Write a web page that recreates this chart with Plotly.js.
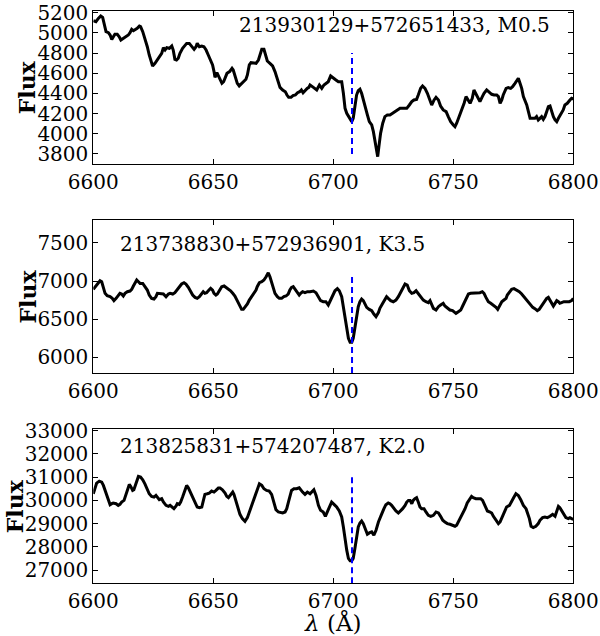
<!DOCTYPE html>
<html>
<head>
<meta charset="utf-8">
<script src="https://cdn.plot.ly/plotly-3.0.1.min.js"></script>
<style>html,body{margin:0;padding:0;background:#fff;}#chart{width:600px;height:636px;}</style>
</head>
<body>
<div id="chart"></div>
<script>
// ---------- data ----------
const starNames = ["213930129+572651433, M0.5", "213738830+572936901, K3.5", "213825831+574207487, K2.0"];
const yLabel = "Flux";
const xLabel = "<i>λ</i> (Å)";
const liLine = 6707.8;
const liLow = [3800, 5795, 26430];
const liHigh = [4800, 7100, 31000];
const xTicks = [6600, 6650, 6700, 6750, 6800];

const wl1 = [6600.0,6601.1,6602.1,6603.1,6603.9,6604.6,6605.3,6606.3,6607.0,6607.7,6608.3,6609.0,6610.0,6610.8,6611.5,6612.5,6613.5,6614.6,6615.3,6616.0,6616.7,6617.4,6618.3,6619.2,6619.7,6620.6,6621.5,6622.5,6623.3,6624.3,6624.7,6625.7,6626.7,6627.8,6628.5,6629.2,6629.9,6630.6,6631.7,6632.7,6633.3,6634.0,6634.7,6635.4,6636.1,6637.2,6638.2,6638.9,6640.0,6641.0,6642.0,6642.8,6643.3,6644.2,6645.2,6646.1,6647.0,6647.9,6648.9,6649.7,6650.3,6650.7,6651.5,6652.6,6653.6,6654.3,6655.0,6655.7,6656.8,6657.8,6658.3,6659.0,6660.0,6660.8,6661.8,6662.8,6663.6,6664.2,6665.0,6665.7,6666.7,6667.8,6668.8,6669.5,6670.2,6671.1,6671.8,6672.5,6673.6,6674.7,6675.7,6676.7,6677.8,6678.9,6680.0,6680.7,6681.4,6682.4,6683.2,6684.2,6685.1,6686.0,6686.7,6687.4,6688.4,6689.1,6689.8,
6690.3,6691.7,6693.1,6694.2,6695.2,6696.1,6697.2,6697.9,6698.9,6700.0,6701.1,6702.1,6703.5,6704.2,6704.9,6705.6,6706.7,6707.7,6708.3,6709.0,6709.7,6710.4,6711.1,6711.8,6712.5,6713.2,6714.2,6715.0,6716.0,6716.7,6717.4,6718.1,6718.5,6719.0,6719.7,6720.6,6721.5,6722.5,6723.6,6724.7,6725.7,6726.7,6727.8,6729.2,6730.6,6731.7,6732.7,6733.6,6734.7,6735.4,6736.4,6737.2,6738.2,6739.2,6740.0,6741.0,6742.0,6742.8,6743.8,6744.7,6745.8,6747.0,6747.9,6748.9,6750.0,6750.7,6751.4,6752.5,6753.5,6754.5,6755.3,6756.0,6757.0,6757.9,6758.6,6759.3,6760.2,6761.1,6762.1,6762.8,6763.9,6764.9,6766.0,6767.0,6768.1,6768.8,6769.5,6770.2,6770.8,6772.0,6772.9,6773.9,6774.7,6775.7,6776.7,6777.1,6777.8,6778.5,6779.2,6779.9,6780.6,6781.3,6782.0,6783.1,6784.0,6784.7,6785.4,6786.1,6786.8,6787.5,6788.2,6788.9,6789.6,6790.3,6791.0,6791.7,6792.4,6793.1,6793.8,6794.7,6795.8,6796.5,6797.5,6798.6,6799.3,6800.0];
const flux1 = [5121,5111,5144,5167,5154,5095,5012,5002,4979,4936,4962,4986,4986,4962,4929,4946,4962,4979,5002,5035,5022,5029,5045,5068,5062,5012,4946,4863,4781,4698,4672,4698,4731,4764,4797,4853,4830,4853,4847,4870,4830,4738,4731,4748,4797,4847,4880,4896,4896,4863,4837,4863,4896,4863,4870,4863,4830,4781,4731,4682,4616,4559,4606,4550,4500,4516,4550,4599,4616,4649,4632,4566,4500,4474,4500,4516,4540,4583,4682,4705,4698,4698,4731,4797,4837,4837,4781,4721,4698,4672,4616,4540,4460,4434,4417,4384,4361,4361,4378,4384,4407,4417,4434,4407,4434,4450,4460,
4483,4460,4434,4483,4450,4483,4500,4516,4573,4550,4533,4516,4516,4401,4252,4203,4153,4120,4153,4285,4384,4427,4441,4401,4335,4252,4186,4120,4087,4021,3922,3806,3773,3872,4004,4104,4170,4186,4186,4203,4219,4236,4252,4252,4252,4285,4318,4335,4341,4384,4450,4474,4450,4401,4351,4285,4335,4361,4335,4275,4236,4219,4170,4120,4087,4070,4104,4170,4236,4302,4368,4335,4302,4351,4434,4401,4351,4318,4368,4401,4434,4417,4391,4384,4384,4368,4302,4335,4384,4450,4457,4450,4467,4500,4540,4550,4500,4450,4368,4325,4285,4219,4153,4153,4153,4170,4137,4153,4170,4143,4170,4219,4269,4275,4219,4170,4137,4120,4153,4186,4236,4285,4302,4335,4351,4345];

const wl2 = [6600.0,6601.1,6602.1,6602.8,6603.5,6604.2,6604.9,6605.8,6607.0,6607.9,6608.6,6609.5,6610.4,6611.1,6611.8,6612.5,6613.2,6614.2,6615.3,6616.0,6616.7,6617.4,6618.1,6618.8,6619.5,6620.6,6621.5,6622.5,6623.3,6624.3,6625.3,6626.1,6626.7,6627.8,6628.5,6629.2,6630.3,6631.3,6632.0,6633.1,6634.0,6635.0,6635.8,6636.8,6637.8,6638.6,6639.6,6640.6,6641.4,6642.4,6643.3,6644.2,6645.2,6645.8,6646.5,6647.2,6648.2,6648.9,6649.7,6650.3,6651.1,6651.7,6652.5,6653.5,6654.5,6655.3,6656.3,6657.2,6658.1,6659.0,6659.7,6660.4,6661.1,6661.8,6662.5,6663.2,6664.2,6665.0,6666.0,6667.0,6667.8,6668.3,6669.2,6670.2,6671.1,6672.0,6672.5,6672.9,6673.6,6674.3,6675.0,6675.7,6676.7,6677.5,6678.5,6679.4,6680.3,6681.2,6681.9,6682.6,6683.3,6684.0,6685.0,6685.8,6686.4,6687.2,6688.2,6689.2,
6690.3,6691.7,6692.8,6693.8,6694.7,6695.8,6696.9,6697.9,6698.9,6699.7,6700.7,6701.7,6702.5,6703.5,6704.2,6704.9,6705.6,6706.3,6707.0,6707.7,6708.3,6709.0,6709.7,6710.4,6711.1,6711.8,6712.5,6713.2,6713.9,6715.0,6716.0,6716.9,6717.8,6718.8,6719.4,6720.6,6721.5,6722.2,6722.9,6723.9,6725.0,6726.1,6727.1,6728.1,6728.9,6729.9,6730.8,6731.7,6732.7,6733.6,6734.5,6735.4,6736.4,6737.5,6738.6,6739.6,6740.3,6741.0,6741.7,6742.8,6743.8,6744.7,6745.8,6746.5,6747.5,6748.6,6749.7,6750.3,6751.1,6752.1,6753.1,6753.9,6754.9,6755.6,6756.3,6757.2,6758.3,6759.7,6761.1,6762.1,6762.8,6763.6,6764.6,6765.6,6766.7,6767.8,6768.5,6769.2,6770.2,6771.1,6772.0,6772.5,6773.4,6774.3,6775.3,6776.4,6777.5,6778.5,6779.4,6780.6,6781.3,6782.0,6783.1,6784.0,6785.0,6785.8,6786.8,6787.8,6788.9,6789.6,6790.3,6791.0,6791.7,6792.4,6793.1,6793.8,6794.4,6795.1,6796.1,6797.2,6798.3,6799.3,6800.0];
const flux2 = [6891,6935,6978,7004,6991,6926,6839,6808,6795,6773,6743,6773,6817,6839,6830,6804,6839,6860,6869,6891,6935,6978,7013,6991,6969,6969,6926,6882,6817,6773,6764,6795,6839,6839,6830,6830,6795,6830,6839,6830,6847,6891,6926,6961,6978,6961,6917,6860,6817,6786,6773,6795,6847,6860,6839,6847,6882,6904,6882,6839,6817,6830,6873,6926,6935,6917,6891,6873,6839,6804,6760,6716,6673,6629,6629,6655,6699,6751,6795,6839,6882,6926,6978,6991,7013,7057,7100,7109,7057,6991,6904,6839,6795,6773,6773,6795,6804,6830,6882,6917,6926,6891,6847,6817,6839,6860,6847,6860,
6860,6869,6847,6795,6743,6729,6729,6686,6751,6817,6873,6900,6873,6795,6664,6490,6359,6250,6197,6197,6250,6380,6533,6664,6729,6764,6743,6699,6655,6629,6612,6568,6533,6586,6642,6708,6760,6795,6773,6743,6729,6751,6795,6860,6917,6961,6948,6873,6839,6847,6873,6839,6795,6751,6729,6716,6743,6699,6642,6620,6664,6686,6708,6673,6642,6620,6612,6599,6577,6599,6620,6673,6743,6795,6830,6839,6839,6839,6847,6860,6839,6786,6729,6708,6686,6655,6629,6673,6729,6751,6773,6817,6860,6891,6900,6882,6860,6830,6795,6751,6716,6686,6655,6638,6612,6629,6673,6729,6773,6786,6751,6699,6673,6708,6743,6729,6708,6716,6729,6729,6729,6743,6773];

const wl3 = [6600.0,6600.7,6601.4,6602.5,6603.5,6604.2,6604.9,6605.6,6606.3,6607.0,6607.7,6608.3,6609.5,6610.4,6611.1,6611.8,6612.8,6613.6,6614.3,6615.0,6615.6,6616.4,6616.9,6617.8,6618.8,6619.7,6620.6,6621.5,6622.5,6623.3,6624.3,6625.3,6626.1,6626.8,6627.5,6628.5,6629.2,6630.3,6631.3,6632.0,6632.6,6633.6,6634.5,6635.0,6635.8,6636.4,6637.2,6638.2,6638.9,6639.6,6640.6,6641.4,6642.4,6643.3,6644.2,6645.2,6645.8,6646.5,6647.5,6648.3,6649.3,6650.3,6651.1,6652.1,6652.8,6653.8,6654.9,6655.6,6656.3,6656.9,6658.1,6658.6,6659.5,6660.4,6661.1,6662.1,6662.8,6663.2,6664.2,6665.0,6666.0,6667.0,6667.8,6668.8,6669.2,6670.2,6671.1,6672.2,6673.3,6674.3,6675.3,6676.1,6677.1,6678.1,6678.9,6679.9,6680.6,6681.3,6682.0,6682.6,6683.6,6684.7,6685.8,6686.4,6687.2,6688.2,6689.2,
6690.3,6691.4,6691.9,6692.8,6693.8,6694.7,6695.8,6696.7,6697.5,6698.3,6699.3,6700.3,6701.4,6702.5,6703.5,6704.2,6704.9,6705.6,6706.3,6707.0,6707.7,6708.3,6709.0,6709.7,6710.4,6711.1,6711.8,6712.5,6713.2,6714.2,6715.0,6716.0,6716.9,6717.8,6718.8,6719.4,6720.1,6721.1,6721.9,6722.9,6723.6,6724.3,6725.3,6726.1,6727.1,6728.1,6728.9,6729.9,6730.6,6731.3,6732.0,6732.7,6733.3,6734.0,6734.7,6735.4,6736.1,6736.8,6737.8,6738.6,6739.6,6740.6,6741.7,6742.8,6743.8,6744.7,6745.6,6746.5,6747.5,6748.6,6749.7,6750.7,6751.4,6752.1,6753.1,6753.9,6754.9,6755.8,6756.7,6757.6,6758.3,6759.4,6760.4,6761.4,6762.2,6763.2,6764.2,6765.3,6766.0,6766.7,6767.8,6768.8,6769.5,6770.2,6771.1,6772.2,6773.4,6774.3,6775.3,6776.1,6777.1,6778.1,6779.2,6780.3,6780.8,6781.7,6782.4,6783.3,6784.4,6785.4,6786.1,6787.2,6788.2,6789.2,6790.3,6791.4,6792.4,6793.1,6793.8,6794.4,6795.1,6796.1,6796.9,6797.9,6798.6,6799.3,6800.0];
const flux3 = [30286,30571,30743,30829,30786,30643,30429,30143,29929,29814,29857,29886,29857,29786,29829,29929,30000,30257,30500,30686,30600,30429,30457,30743,31029,31000,30886,30714,30500,30286,30171,30143,30214,30114,30029,30071,29929,29786,29743,29786,29714,29643,29757,29857,29829,29929,30143,30457,30643,30543,30314,30143,29929,29714,29686,29714,29971,30257,30286,30314,30400,30357,30429,30529,30529,30457,30314,30171,30114,30214,30357,30257,29971,29643,29400,29214,29114,29100,29257,29500,29786,30143,30357,30600,30714,30643,30500,30429,30400,30257,29929,29600,29500,29457,29457,29500,29643,29929,30214,30429,30500,30500,30543,30457,30357,30257,30357,
30286,30429,30457,30214,29786,29571,29500,29314,29500,29743,29929,29829,29714,29543,29286,28857,28286,27857,27500,27400,27400,27500,27929,28429,28857,29029,29114,29000,28829,28543,28600,28643,28500,28714,29071,29257,29400,29643,29814,29886,29857,29786,29643,29543,29457,29543,29643,29786,29929,30000,30000,29857,30000,30071,30114,29929,29714,29643,29643,29500,29357,29314,29357,29500,29457,29314,29143,29071,29000,28971,28929,28886,28929,29071,29214,29400,29643,29886,30029,30171,30114,30071,30071,30071,30000,29786,29543,29500,29457,29314,29143,29000,29071,29257,29457,29714,29786,29929,30143,30286,30214,30029,29786,29643,29500,29214,28886,28829,28886,29000,29143,29257,29286,29257,29314,29400,29314,29500,29743,29686,29571,29429,29257,29214,29257,29214,29186];

const yRanges = [[3700, 5220], [5795, 7800], [26430, 33060]];
const yDticks = [200, 500, 1000];

// ---------- chart ----------
const FONT = 'DejaVu Serif';
const wls = [wl1, wl2, wl3];
const fluxes = [flux1, flux2, flux3];
const traces = [];
for (let i = 0; i < 3; i++) {
  const sfx = i === 0 ? '' : String(i + 1);
  traces.push({x: wls[i], y: fluxes[i], type: 'scatter', mode: 'lines',
    xaxis: 'x' + sfx, yaxis: 'y' + sfx, line: {color: 'black', width: 3}, hoverinfo: 'skip'});
  traces.push({x: [liLine, liLine], y: [liLow[i], liHigh[i]], type: 'scatter', mode: 'lines',
    xaxis: 'x' + sfx, yaxis: 'y' + sfx, line: {color: '#0000ff', width: 2, dash: '6px,4px'}, hoverinfo: 'skip'});
}

const xDom = [93.3 / 600, 573.3 / 600];
const yDoms = [[(636 - 164) / 636, (636 - 10.7) / 636], [(636 - 373) / 636, (636 - 220) / 636], [(636 - 583.3) / 636, (636 - 429.3) / 636]];

function axisCommon() {
  return {showline: true, mirror: 'ticks', linecolor: 'black', linewidth: 1, ticks: 'inside', ticklen: 5,
    tickcolor: 'black', tickwidth: 1, showgrid: false, zeroline: false, tickformat: 'd',
    tickfont: {family: FONT, size: 20, color: 'black'}};
}

const layout = {width: 600, height: 636, margin: {l: 0, r: 0, t: 0, b: 0}, showlegend: false,
  paper_bgcolor: 'white', plot_bgcolor: 'white', font: {family: FONT, size: 20, color: 'black'}, annotations: []};

const labelPos = [[237 / 600, (636 - 25) / 636], [118.3 / 600, (636 - 244) / 636], [118.3 / 600, (636 - 446.3) / 636]];
const fluxX = [27 / 600, 27 / 600, 15 / 600];
for (let i = 0; i < 3; i++) {
  const sfx = i === 0 ? '' : String(i + 1);
  const xa = Object.assign(axisCommon(), {domain: xDom, anchor: 'y' + sfx, range: [6600, 6800], tickvals: xTicks});
  if (i === 2) {
    xa.title = {text: xLabel, font: {family: FONT, size: 23, color: 'black'}, standoff: 8};
  }
  const ya = Object.assign(axisCommon(), {domain: yDoms[i], anchor: 'x' + sfx, range: yRanges[i], dtick: yDticks[i], tick0: 0});
  layout['xaxis' + sfx] = xa;
  layout['yaxis' + sfx] = ya;
  layout.annotations.push({text: starNames[i], xref: 'paper', yref: 'paper', x: labelPos[i][0], y: labelPos[i][1],
    xanchor: 'left', yanchor: 'middle', showarrow: false, font: {family: FONT, size: 20, color: 'black'}});
  layout.annotations.push({text: '<b>' + yLabel + '</b>', xref: 'paper', yref: 'paper', x: fluxX[i],
    y: (yDoms[i][0] + yDoms[i][1]) / 2, xanchor: 'center', yanchor: 'middle', textangle: -90, showarrow: false,
    font: {family: FONT, size: 22, color: 'black'}});
}

Plotly.newPlot('chart', traces, layout, {staticPlot: true, displayModeBar: false});
</script>
</body>
</html>
